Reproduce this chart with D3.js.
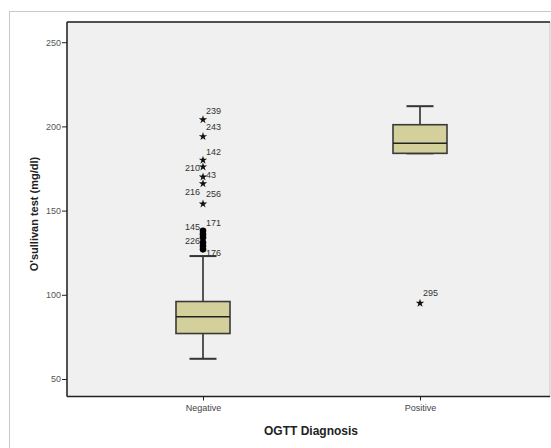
<!DOCTYPE html>
<html><head><meta charset="utf-8">
<script src="https://cdn.jsdelivr.net/npm/d3@7"></script>
<style>body{margin:0;background:#fff;overflow:hidden}</style>
</head><body><svg id="c" width="551" height="448"></svg>
<script>
// ---- data ----
const categories = ["Negative", "Positive"];
const q1 = [77, 184];
const median = [87, 190];
const q3 = [96, 201];
const whiskerLow = [62, 184];
const whiskerHigh = [123, 212];
const yTicks = [50, 100, 150, 200, 250];

// mild outliers (circles)
const mildCategory = ["Negative", "Negative", "Negative", "Negative", "Negative", "Negative"];
const mildValue = [138, 136, 134, 131, 129, 127];

// extreme outliers (stars)
const extremeCategory = ["Negative", "Negative", "Negative", "Negative", "Negative", "Negative", "Negative", "Positive"];
const extremeValue = [204, 194, 180, 176, 170, 166, 154, 95];

// case labels
const labelText = ["239", "243", "142", "210", "43", "216", "256", "171", "145", "226", "176", "295"];
const labelCategory = ["Negative", "Negative", "Negative", "Negative", "Negative", "Negative", "Negative", "Negative", "Negative", "Negative", "Negative", "Positive"];
const labelValue = [209, 200, 185, 175.4, 171.3, 161, 160, 143, 140.2, 132.3, 124.8, 101.4];
const labelSide = ["R", "R", "R", "L", "R", "L", "R", "R", "L", "L", "R", "R"];

// ---- chart ----
const svg = d3.select("#c");
const L = 67, R = 550, T = 22, B = 396.5;
const x = d3.scalePoint().domain(categories).range([203, 420]);
const y = d3.scaleLinear().domain([39.6, 262]).range([B, T]);

// outer frame
svg.append("rect").attr("x", 9.5).attr("y", 11.5).attr("width", 600).attr("height", 600)
  .attr("fill", "#fff").attr("stroke", "#c8c8c8").attr("stroke-width", 1);

// plot background
svg.append("rect").attr("x", L).attr("y", T).attr("width", R - L).attr("height", B - T)
  .attr("fill", "#f0f0f0").attr("stroke", "#c8c8c8");

// boxes
const boxW = 54, capW = 27;
const g = svg.append("g");
categories.forEach((c, i) => {
  const cx = x(c);
  g.append("line").attr("x1", cx).attr("x2", cx).attr("y1", y(q3[i])).attr("y2", y(whiskerHigh[i]))
    .attr("stroke", "#555").attr("stroke-width", 2);
  g.append("line").attr("x1", cx).attr("x2", cx).attr("y1", y(q1[i])).attr("y2", y(whiskerLow[i]))
    .attr("stroke", "#555").attr("stroke-width", 2);
  [whiskerHigh[i], whiskerLow[i]].forEach(v => {
    g.append("line").attr("x1", cx - capW / 2).attr("x2", cx + capW / 2).attr("y1", y(v)).attr("y2", y(v))
      .attr("stroke", "#333").attr("stroke-width", 2);
  });
  g.append("rect").attr("x", cx - boxW / 2).attr("y", y(q3[i])).attr("width", boxW)
    .attr("height", y(q1[i]) - y(q3[i])).attr("fill", "#d4d09c").attr("stroke", "#3a3a3a").attr("stroke-width", 1.6);
  g.append("line").attr("x1", cx - boxW / 2).attr("x2", cx + boxW / 2).attr("y1", y(median[i])).attr("y2", y(median[i]))
    .attr("stroke", "#222").attr("stroke-width", 1.6);
});

// mild outliers
svg.append("g").selectAll("circle").data(mildValue).join("circle")
  .attr("cx", (d, i) => x(mildCategory[i])).attr("cy", d => y(d)).attr("r", 3.3).attr("fill", "#000");

// extreme outliers
const star = d3.symbol().type(d3.symbolStar).size(22);
svg.append("g").selectAll("path").data(extremeValue).join("path")
  .attr("transform", (d, i) => `translate(${x(extremeCategory[i])},${y(d)})`)
  .attr("d", star).attr("fill", "#111");

// case labels
svg.append("g").selectAll("text").data(labelText).join("text")
  .attr("x", (d, i) => x(labelCategory[i]) + (labelSide[i] === "R" ? 3 : -3))
  .attr("y", (d, i) => y(labelValue[i]))
  .attr("dy", "0.35em")
  .attr("text-anchor", (d, i) => labelSide[i] === "R" ? "start" : "end")
  .attr("font-family", "Liberation Sans, Arial, sans-serif").attr("font-size", 9).attr("fill", "#333")
  .text(d => d);

// axes frame lines
svg.append("line").attr("x1", L).attr("x2", R).attr("y1", T).attr("y2", T).attr("stroke", "#222").attr("stroke-width", 1.5);
svg.append("line").attr("x1", L).attr("x2", L).attr("y1", T).attr("y2", B).attr("stroke", "#222").attr("stroke-width", 1.5);
svg.append("line").attr("x1", L).attr("x2", R).attr("y1", B).attr("y2", B).attr("stroke", "#222").attr("stroke-width", 1.5);

// y axis
const ya = svg.append("g").attr("transform", `translate(${L},0)`)
  .call(d3.axisLeft(y).tickValues(yTicks).tickSize(5).tickPadding(1));
ya.select(".domain").remove();
ya.selectAll("line").attr("stroke", "#222");
ya.selectAll("text").attr("font-family", "Liberation Sans, Arial, sans-serif").attr("font-size", 9).attr("fill", "#555");

// x axis
const xa = svg.append("g").attr("transform", `translate(0,${B})`)
  .call(d3.axisBottom(x).tickSize(4).tickPadding(4));
xa.select(".domain").remove();
xa.selectAll("line").attr("stroke", "#222");
xa.selectAll("text").attr("font-family", "Liberation Sans, Arial, sans-serif").attr("font-size", 9).attr("fill", "#444");

// axis titles
svg.append("text").attr("x", 311).attr("y", 435).attr("text-anchor", "middle")
  .attr("font-family", "Liberation Sans, Arial, sans-serif").attr("font-size", 12).attr("font-weight", "bold").attr("fill", "#222")
  .text("OGTT Diagnosis");
svg.append("text").attr("transform", "translate(38,214) rotate(-90)").attr("text-anchor", "middle")
  .attr("font-family", "Liberation Sans, Arial, sans-serif").attr("font-size", 11).attr("font-weight", "bold").attr("fill", "#222")
  .text("O'sullivan test (mg/dl)");
</script></body></html>
